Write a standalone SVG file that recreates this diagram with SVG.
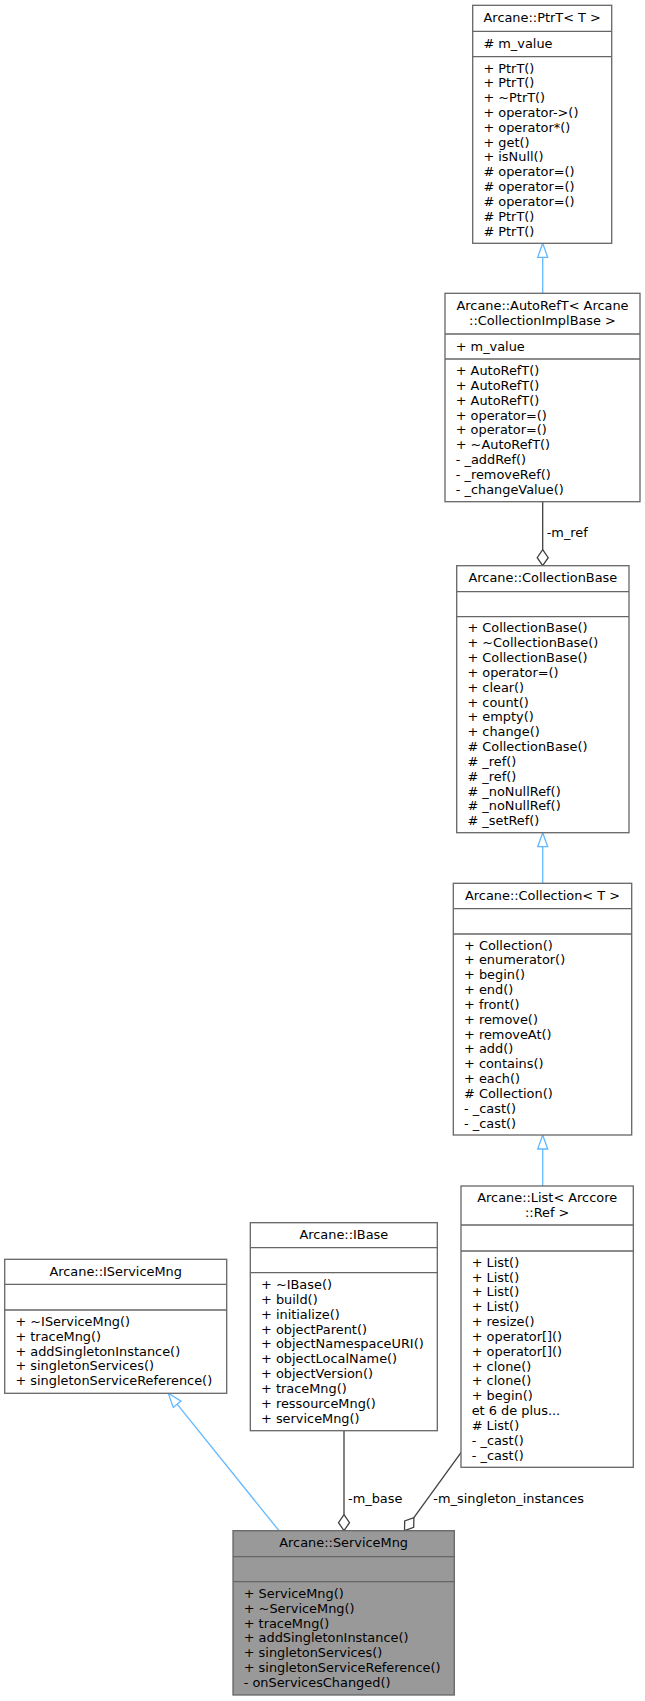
<svg xmlns="http://www.w3.org/2000/svg" width="645" height="1701" viewBox="0 0 645 1701">
<style>
.box{fill:#ffffff;stroke:#666666;stroke-width:1.3}
.hl{fill:#999999;stroke:#666666;stroke-width:1.3}
.sep{stroke:#666666;stroke-width:1.3}
text{font-family:"DejaVu Sans","Liberation Sans",sans-serif;font-size:12.9px;fill:#000000}
.c{text-anchor:middle}
.inh{stroke:#63b8ff;stroke-width:1.3;fill:none}
.inhh{stroke:#63b8ff;stroke-width:1.3;fill:#ffffff}
.agg{stroke:#404040;stroke-width:1.3;fill:none}
.aggh{stroke:#404040;stroke-width:1.3;fill:#ffffff}
</style>
<rect width="645" height="1701" fill="#ffffff"/>
<g id="connectors">
<line class="inh" x1="542.7" y1="257.3" x2="542.7" y2="293.3"/>
<polygon class="inhh" points="542.7,243.3 547.7,257.3 537.7,257.3"/>
<line class="agg" x1="542.7" y1="501.7" x2="542.7" y2="549.7"/>
<polygon class="aggh" points="542.7,565.7 548.2,557.7 542.7,549.7 537.2,557.7"/>
<text x="546.7" y="537">-m_ref</text>
<line class="inh" x1="542.7" y1="846.7" x2="542.7" y2="883.3"/>
<polygon class="inhh" points="542.7,832.7 547.7,846.7 537.7,846.7"/>
<line class="inh" x1="542.7" y1="1149" x2="542.7" y2="1186"/>
<polygon class="inhh" points="542.7,1135 547.7,1149 537.7,1149"/>
<line class="inh" x1="279" y1="1530.7" x2="177.1" y2="1404.2"/>
<polygon class="inhh" points="168.3,1393.3 181,1401.1 173.2,1407.4"/>
<line class="agg" x1="344" y1="1430.7" x2="344" y2="1514.7"/>
<polygon class="aggh" points="344,1530.7 349.5,1522.7 344,1514.7 338.5,1522.7"/>
<text x="348" y="1503">-m_base</text>
<line class="agg" x1="461.7" y1="1451.7" x2="413.9" y2="1517.7"/>
<polygon class="aggh" points="404.5,1530.7 413.7,1527.4 413.9,1517.7 404.7,1521"/>
<text x="433.3" y="1503">-m_singleton_instances</text>
</g>
<g id="node_PtrT">
<rect class="box" x="472.7" y="5.3" width="139" height="238"/>
<line class="sep" x1="472.7" y1="31.3" x2="611.7" y2="31.3"/>
<line class="sep" x1="472.7" y1="56.7" x2="611.7" y2="56.7"/>
<text class="c" x="542.2" y="22.4">Arcane::PtrT&lt; T &gt;</text>
<text x="483.4" y="48.1"># m_value</text>
<text x="483.4" y="72.5"><tspan x="483.4">+ PtrT()</tspan><tspan x="483.4" dy="14.83">+ PtrT()</tspan><tspan x="483.4" dy="14.83">+ ~PtrT()</tspan><tspan x="483.4" dy="14.83">+ operator-&gt;()</tspan><tspan x="483.4" dy="14.83">+ operator*()</tspan><tspan x="483.4" dy="14.83">+ get()</tspan><tspan x="483.4" dy="14.83">+ isNull()</tspan><tspan x="483.4" dy="14.83"># operator=()</tspan><tspan x="483.4" dy="14.83"># operator=()</tspan><tspan x="483.4" dy="14.83"># operator=()</tspan><tspan x="483.4" dy="14.83"># PtrT()</tspan><tspan x="483.4" dy="14.83"># PtrT()</tspan></text>
</g>
<g id="node_AutoRefT">
<rect class="box" x="445" y="293.3" width="195" height="208.4"/>
<line class="sep" x1="445" y1="334" x2="640" y2="334"/>
<line class="sep" x1="445" y1="359" x2="640" y2="359"/>
<text class="c" x="542.5" y="310.3">Arcane::AutoRefT&lt; Arcane</text>
<text class="c" x="542.5" y="325.1">::CollectionImplBase &gt;</text>
<text x="455.7" y="350.6">+ m_value</text>
<text x="455.7" y="375.1"><tspan x="455.7">+ AutoRefT()</tspan><tspan x="455.7" dy="14.83">+ AutoRefT()</tspan><tspan x="455.7" dy="14.83">+ AutoRefT()</tspan><tspan x="455.7" dy="14.83">+ operator=()</tspan><tspan x="455.7" dy="14.83">+ operator=()</tspan><tspan x="455.7" dy="14.83">+ ~AutoRefT()</tspan><tspan x="455.7" dy="14.83">- _addRef()</tspan><tspan x="455.7" dy="14.83">- _removeRef()</tspan><tspan x="455.7" dy="14.83">- _changeValue()</tspan></text>
</g>
<g id="node_CollectionBase">
<rect class="box" x="456.7" y="565.7" width="172.3" height="267"/>
<line class="sep" x1="456.7" y1="591.7" x2="629" y2="591.7"/>
<line class="sep" x1="456.7" y1="616.7" x2="629" y2="616.7"/>
<text class="c" x="542.85" y="582.3">Arcane::CollectionBase</text>
<text x="467.4" y="632.4"><tspan x="467.4">+ CollectionBase()</tspan><tspan x="467.4" dy="14.83">+ ~CollectionBase()</tspan><tspan x="467.4" dy="14.83">+ CollectionBase()</tspan><tspan x="467.4" dy="14.83">+ operator=()</tspan><tspan x="467.4" dy="14.83">+ clear()</tspan><tspan x="467.4" dy="14.83">+ count()</tspan><tspan x="467.4" dy="14.83">+ empty()</tspan><tspan x="467.4" dy="14.83">+ change()</tspan><tspan x="467.4" dy="14.83"># CollectionBase()</tspan><tspan x="467.4" dy="14.83"># _ref()</tspan><tspan x="467.4" dy="14.83"># _ref()</tspan><tspan x="467.4" dy="14.83"># _noNullRef()</tspan><tspan x="467.4" dy="14.83"># _noNullRef()</tspan><tspan x="467.4" dy="14.83"># _setRef()</tspan></text>
</g>
<g id="node_Collection">
<rect class="box" x="453.3" y="883.3" width="178.4" height="251.7"/>
<line class="sep" x1="453.3" y1="908.7" x2="631.7" y2="908.7"/>
<line class="sep" x1="453.3" y1="934" x2="631.7" y2="934"/>
<text class="c" x="542.5" y="900.1">Arcane::Collection&lt; T &gt;</text>
<text x="464" y="949.6"><tspan x="464">+ Collection()</tspan><tspan x="464" dy="14.83">+ enumerator()</tspan><tspan x="464" dy="14.83">+ begin()</tspan><tspan x="464" dy="14.83">+ end()</tspan><tspan x="464" dy="14.83">+ front()</tspan><tspan x="464" dy="14.83">+ remove()</tspan><tspan x="464" dy="14.83">+ removeAt()</tspan><tspan x="464" dy="14.83">+ add()</tspan><tspan x="464" dy="14.83">+ contains()</tspan><tspan x="464" dy="14.83">+ each()</tspan><tspan x="464" dy="14.83"># Collection()</tspan><tspan x="464" dy="14.83">- _cast()</tspan><tspan x="464" dy="14.83">- _cast()</tspan></text>
</g>
<g id="node_List">
<rect class="box" x="461" y="1186" width="172.3" height="281.3"/>
<line class="sep" x1="461" y1="1225" x2="633.3" y2="1225"/>
<line class="sep" x1="461" y1="1251" x2="633.3" y2="1251"/>
<text class="c" x="547.2" y="1202.2">Arcane::List&lt; Arccore</text>
<text class="c" x="547.2" y="1217">::Ref &gt;</text>
<text x="471.7" y="1266.8"><tspan x="471.7">+ List()</tspan><tspan x="471.7" dy="14.83">+ List()</tspan><tspan x="471.7" dy="14.83">+ List()</tspan><tspan x="471.7" dy="14.83">+ List()</tspan><tspan x="471.7" dy="14.83">+ resize()</tspan><tspan x="471.7" dy="14.83">+ operator[]()</tspan><tspan x="471.7" dy="14.83">+ operator[]()</tspan><tspan x="471.7" dy="14.83">+ clone()</tspan><tspan x="471.7" dy="14.83">+ clone()</tspan><tspan x="471.7" dy="14.83">+ begin()</tspan><tspan x="471.7" dy="14.83">et 6 de plus...</tspan><tspan x="471.7" dy="14.83"># List()</tspan><tspan x="471.7" dy="14.83">- _cast()</tspan><tspan x="471.7" dy="14.83">- _cast()</tspan></text>
</g>
<g id="node_IBase">
<rect class="box" x="250.3" y="1222.7" width="187" height="208"/>
<line class="sep" x1="250.3" y1="1247.7" x2="437.3" y2="1247.7"/>
<line class="sep" x1="250.3" y1="1272.7" x2="437.3" y2="1272.7"/>
<text class="c" x="343.8" y="1239.3">Arcane::IBase</text>
<text x="261" y="1289.05"><tspan x="261">+ ~IBase()</tspan><tspan x="261" dy="14.83">+ build()</tspan><tspan x="261" dy="14.83">+ initialize()</tspan><tspan x="261" dy="14.83">+ objectParent()</tspan><tspan x="261" dy="14.83">+ objectNamespaceURI()</tspan><tspan x="261" dy="14.83">+ objectLocalName()</tspan><tspan x="261" dy="14.83">+ objectVersion()</tspan><tspan x="261" dy="14.83">+ traceMng()</tspan><tspan x="261" dy="14.83">+ ressourceMng()</tspan><tspan x="261" dy="14.83">+ serviceMng()</tspan></text>
</g>
<g id="node_IServiceMng">
<rect class="box" x="4.7" y="1259.3" width="222" height="134"/>
<line class="sep" x1="4.7" y1="1284.3" x2="226.7" y2="1284.3"/>
<line class="sep" x1="4.7" y1="1310" x2="226.7" y2="1310"/>
<text class="c" x="115.7" y="1275.9">Arcane::IServiceMng</text>
<text x="15.4" y="1326"><tspan x="15.4">+ ~IServiceMng()</tspan><tspan x="15.4" dy="14.83">+ traceMng()</tspan><tspan x="15.4" dy="14.83">+ addSingletonInstance()</tspan><tspan x="15.4" dy="14.83">+ singletonServices()</tspan><tspan x="15.4" dy="14.83">+ singletonServiceReference()</tspan></text>
</g>
<g id="node_ServiceMng">
<rect class="hl" x="233" y="1530.7" width="221.3" height="164.3"/>
<line class="sep" x1="233" y1="1556.7" x2="454.3" y2="1556.7"/>
<line class="sep" x1="233" y1="1581.7" x2="454.3" y2="1581.7"/>
<text class="c" x="343.65" y="1547.3">Arcane::ServiceMng</text>
<text x="243.7" y="1598"><tspan x="243.7">+ ServiceMng()</tspan><tspan x="243.7" dy="14.83">+ ~ServiceMng()</tspan><tspan x="243.7" dy="14.83">+ traceMng()</tspan><tspan x="243.7" dy="14.83">+ addSingletonInstance()</tspan><tspan x="243.7" dy="14.83">+ singletonServices()</tspan><tspan x="243.7" dy="14.83">+ singletonServiceReference()</tspan><tspan x="243.7" dy="14.83">- onServicesChanged()</tspan></text>
</g>
</svg>
